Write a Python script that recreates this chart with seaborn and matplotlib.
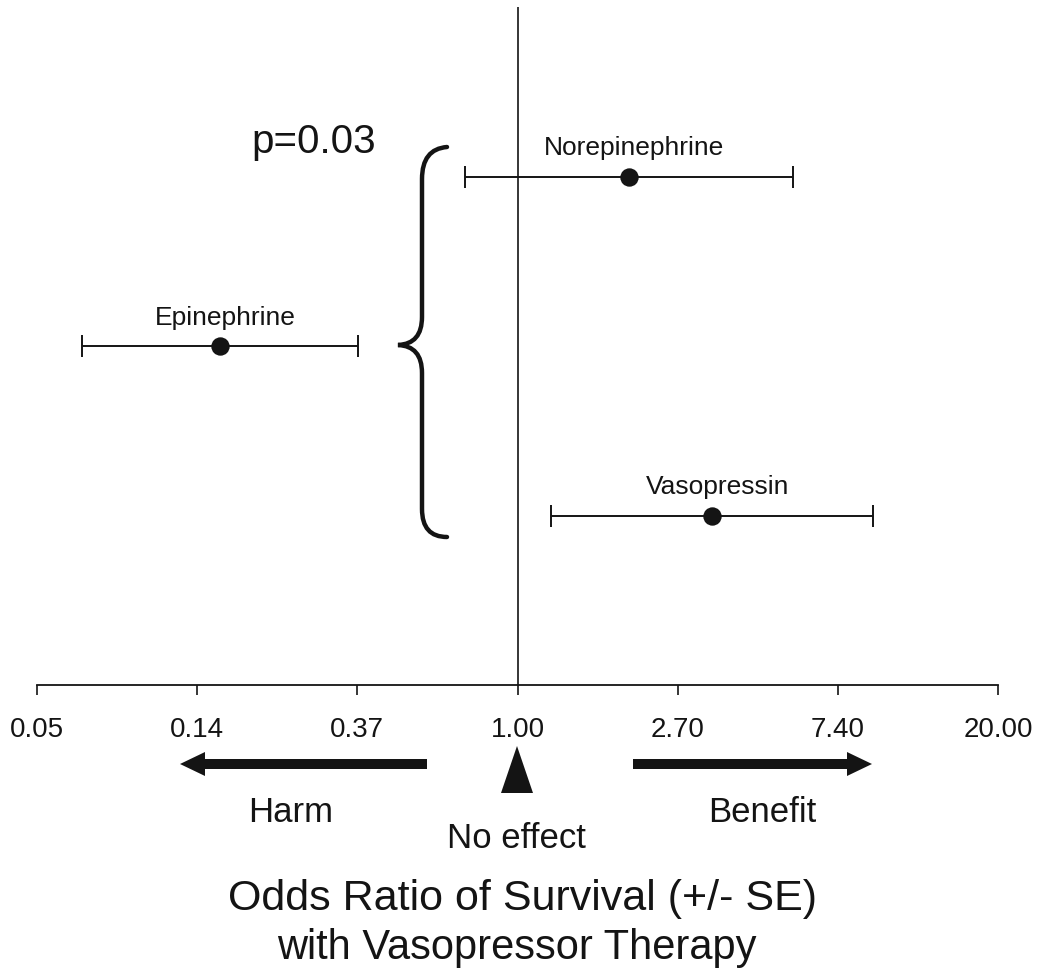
import numpy as np
import pandas as pd
import matplotlib
matplotlib.use("Agg")
import matplotlib.pyplot as plt
import seaborn as sns
from matplotlib.path import Path
from matplotlib.patches import PathPatch, Polygon, FancyArrow

# ---- data ----
drugs = ["Norepinephrine", "Epinephrine", "Vasopressin"]
odds_ratio = [2.00, 0.156, 3.36]
se_low = [0.72, 0.066, 1.23]
se_high = [5.60, 0.37, 9.20]
row = [3, 2, 1]
tick_exponents = [-3, -2, -1, 0, 1, 2, 3]
tick_labels = ["0.05", "0.14", "0.37", "1.00", "2.70", "7.40", "20.00"]
p_text = "p=0.03"
title_lines = ["Odds Ratio of Survival (+/- SE)", "with Vasopressor Therapy"]

sns.set_style("white")
plt.rcParams['font.family'] = ['Liberation Sans', 'DejaVu Sans']

INK = "#141414"
W, H = 1039, 970
fig = plt.figure(figsize=(W / 100, H / 100), dpi=100)

# overlay (pixel coordinates) for decorations
ov = fig.add_axes([0, 0, 1, 1])
ov.set_xlim(0, W)
ov.set_ylim(H, 0)
ov.axis("off")
ov.patch.set_alpha(0)

ax = fig.add_axes([37 / W, 1 - 686 / H, 961 / W, 678 / H])
ax.patch.set_alpha(0)

df = pd.DataFrame({"drug": drugs, "or": odds_ratio, "lo": se_low,
                   "hi": se_high, "row": row})

ax.axvline(1.0, color=INK, lw=1.2, zorder=1)
ax.errorbar(df["or"], df["row"],
            xerr=[df["or"] - df["lo"], df["hi"] - df["or"]],
            fmt="none", ecolor=INK, elinewidth=1.4, capsize=8, capthick=1.4,
            zorder=2)
sns.scatterplot(data=df, x="or", y="row", color=INK, s=175, linewidth=0,
                ax=ax, zorder=3, legend=False)
for _, r in df.iterrows():
    ax.annotate(r["drug"], (r["or"], r["row"]), xytext=(4, 16),
                textcoords="offset points", ha="center", va="baseline",
                fontsize=19, color=INK)

ax.set_xscale("log")
ax.set_xlim(np.exp(-3), np.exp(3))
ax.set_ylim(0, 4)
ticks = [np.exp(k) for k in tick_exponents]
ax.set_xticks(ticks)
ax.set_xticklabels(tick_labels)
ax.xaxis.set_minor_locator(matplotlib.ticker.NullLocator())
ax.set_yticks([])
ax.set_xlabel("")
ax.set_ylabel("")
sns.despine(ax=ax, left=True)
ax.spines["bottom"].set_linewidth(1.3)
ax.spines["bottom"].set_color(INK)
ax.tick_params(axis="x", bottom=True, direction="out", length=7.5, width=1.2,
               labelsize=20, pad=15, color=INK, labelcolor=INK)

# brace
verts = [(447, 148), (422, 150), (422, 180),
         (422, 318),
         (422, 345), (398, 346),
         (422, 347), (422, 374),
         (422, 510),
         (422, 538), (447, 538)]
codes = [Path.MOVETO, Path.CURVE3, Path.CURVE3,
         Path.LINETO,
         Path.CURVE3, Path.CURVE3,
         Path.CURVE3, Path.CURVE3,
         Path.LINETO,
         Path.CURVE3, Path.CURVE3]
ov.add_patch(PathPatch(Path(verts, codes), fill=False, lw=3.2, color=INK,
                       capstyle="round"))
ov.text(314, 153, p_text, ha="center", va="baseline", fontsize=29, color=INK)

# arrows and triangle
ov.add_patch(FancyArrow(427, 765, -247, 0, width=10, head_width=24,
                        head_length=25, length_includes_head=True,
                        color=INK, lw=0))
ov.add_patch(FancyArrow(633, 765, 239, 0, width=10, head_width=24,
                        head_length=25, length_includes_head=True,
                        color=INK, lw=0))
ov.add_patch(Polygon([(501, 794), (533, 794), (517, 747)], closed=True,
                     color=INK, lw=0))

ov.text(291, 822, "Harm", ha="center", va="baseline", fontsize=25, color=INK)
ov.text(762, 822, "Benefit", ha="center", va="baseline", fontsize=25, color=INK)
ov.text(516, 848, "No effect", ha="center", va="baseline", fontsize=25, color=INK)
ov.text(522, 910, title_lines[0], ha="center", va="baseline", fontsize=31, color=INK)
ov.text(517, 959, title_lines[1], ha="center", va="baseline", fontsize=30, color=INK)

fig.savefig("out.png", dpi=100)
